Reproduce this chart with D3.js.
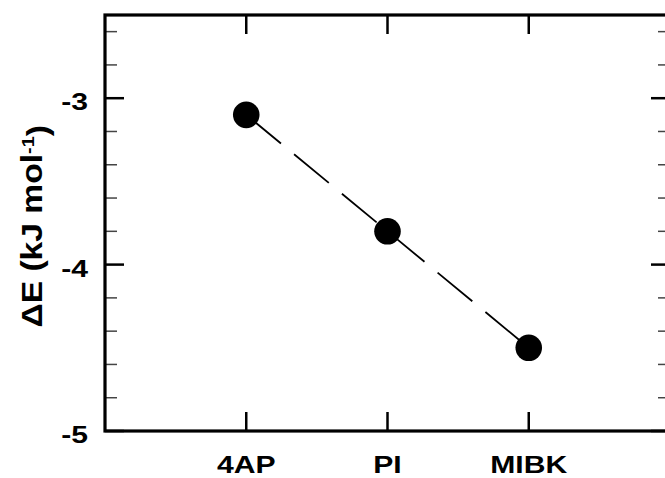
<!DOCTYPE html>
<html>
<head>
<meta charset="utf-8">
<script src="https://cdn.jsdelivr.net/npm/d3@7"></script>
<style>
  html, body { margin: 0; padding: 0; background: #fff; }
  svg { display: block; font-family: "Liberation Sans", Arial, sans-serif; }
</style>
</head>
<body>
<div id="chart"></div>
<script>
const solvents = ['4AP', 'PI', 'MIBK'];
const deltaE = [-3.1, -3.8, -4.5];
const yMajorTicks = [-5, -4, -3];
const yMinorTicks = [-4.8, -4.6, -4.4, -4.2, -3.8, -3.6, -3.4, -3.2, -2.8, -2.6];

const W = 665, H = 478;
const margin = { top: 15, right: -5, bottom: 47, left: 105 };
const width = W - margin.left - margin.right;
const height = H - margin.top - margin.bottom;
const stretch = 1.23; // the original lettering is wider than Arial

const svg = d3.select('#chart').append('svg')
    .attr('width', W)
    .attr('height', H);

const g = svg.append('g')
    .attr('transform', `translate(${margin.left},${margin.top})`);

const xScale = d3.scaleLinear().domain([0, 4]).range([0, width]);
const yScale = d3.scaleLinear().domain([-5, -2.5]).range([height, 0]);
const xPos = (d, i) => xScale(i + 1);

// major y ticks, left and right (inward)
g.selectAll('.ymaj-l').data(yMajorTicks).enter().append('line')
    .attr('x1', 0).attr('x2', 19)
    .attr('y1', d => yScale(d)).attr('y2', d => yScale(d))
    .attr('stroke', '#000').attr('stroke-width', 2.5);
g.selectAll('.ymaj-r').data(yMajorTicks).enter().append('line')
    .attr('x1', width).attr('x2', width - 19)
    .attr('y1', d => yScale(d)).attr('y2', d => yScale(d))
    .attr('stroke', '#000').attr('stroke-width', 2.5);

// minor y ticks
g.selectAll('.ymin-l').data(yMinorTicks).enter().append('line')
    .attr('x1', 0).attr('x2', 12)
    .attr('y1', d => yScale(d)).attr('y2', d => yScale(d))
    .attr('stroke', '#444').attr('stroke-width', 1.5);
g.selectAll('.ymin-r').data(yMinorTicks).enter().append('line')
    .attr('x1', width).attr('x2', width - 12)
    .attr('y1', d => yScale(d)).attr('y2', d => yScale(d))
    .attr('stroke', '#444').attr('stroke-width', 1.5);

// x ticks bottom and top
g.selectAll('.xt-b').data(solvents).enter().append('line')
    .attr('x1', xPos).attr('x2', xPos)
    .attr('y1', height).attr('y2', height - 19)
    .attr('stroke', '#000').attr('stroke-width', 2.5);
g.selectAll('.xt-t').data(solvents).enter().append('line')
    .attr('x1', xPos).attr('x2', xPos)
    .attr('y1', 0).attr('y2', 19)
    .attr('stroke', '#000').attr('stroke-width', 2.5);

// frame
g.append('rect')
    .attr('x', 0).attr('y', 0)
    .attr('width', width).attr('height', height)
    .attr('fill', 'none')
    .attr('stroke', '#000')
    .attr('stroke-width', 3.2);

// y tick labels
g.selectAll('.ylab').data(yMajorTicks).enter().append('text')
    .attr('transform', d => `translate(-17,${yScale(d) + 12}) scale(${stretch},1)`)
    .attr('text-anchor', 'end')
    .style('font-size', '24.5px')
    .style('font-weight', 'bold')
    .text(d => d);

// x tick labels
g.selectAll('.xlab').data(solvents).enter().append('text')
    .attr('transform', (d, i) => `translate(${xPos(d, i)},${height + 42}) scale(${stretch},1)`)
    .attr('text-anchor', 'middle')
    .style('font-size', '24.5px')
    .style('font-weight', 'bold')
    .text(d => d);

// y axis title
const yTitle = svg.append('text')
    .attr('transform', `translate(42, ${margin.top + yScale(-3.77)}) rotate(-90) scale(1.16,1)`)
    .attr('text-anchor', 'middle')
    .style('font-size', '29px')
    .style('font-weight', 'bold');
yTitle.append('tspan').text('\u0394E (kJ mol');
yTitle.append('tspan').attr('dy', '-0.5em').style('font-size', '17px').text('-1');
yTitle.append('tspan').attr('dy', '0.5em').text(')');

// dashed line
const line = d3.line()
    .x((d, i) => xPos(d, i))
    .y(d => yScale(d));

g.append('path')
    .datum(deltaE)
    .attr('fill', 'none')
    .attr('stroke', '#000')
    .attr('stroke-width', 1.8)
    .attr('stroke-dasharray', '45,17')
    .attr('d', line);

// markers
g.selectAll('.pt').data(deltaE).enter().append('circle')
    .attr('cx', xPos)
    .attr('cy', d => yScale(d))
    .attr('r', 13.3)
    .attr('fill', '#000');
</script>
</body>
</html>
